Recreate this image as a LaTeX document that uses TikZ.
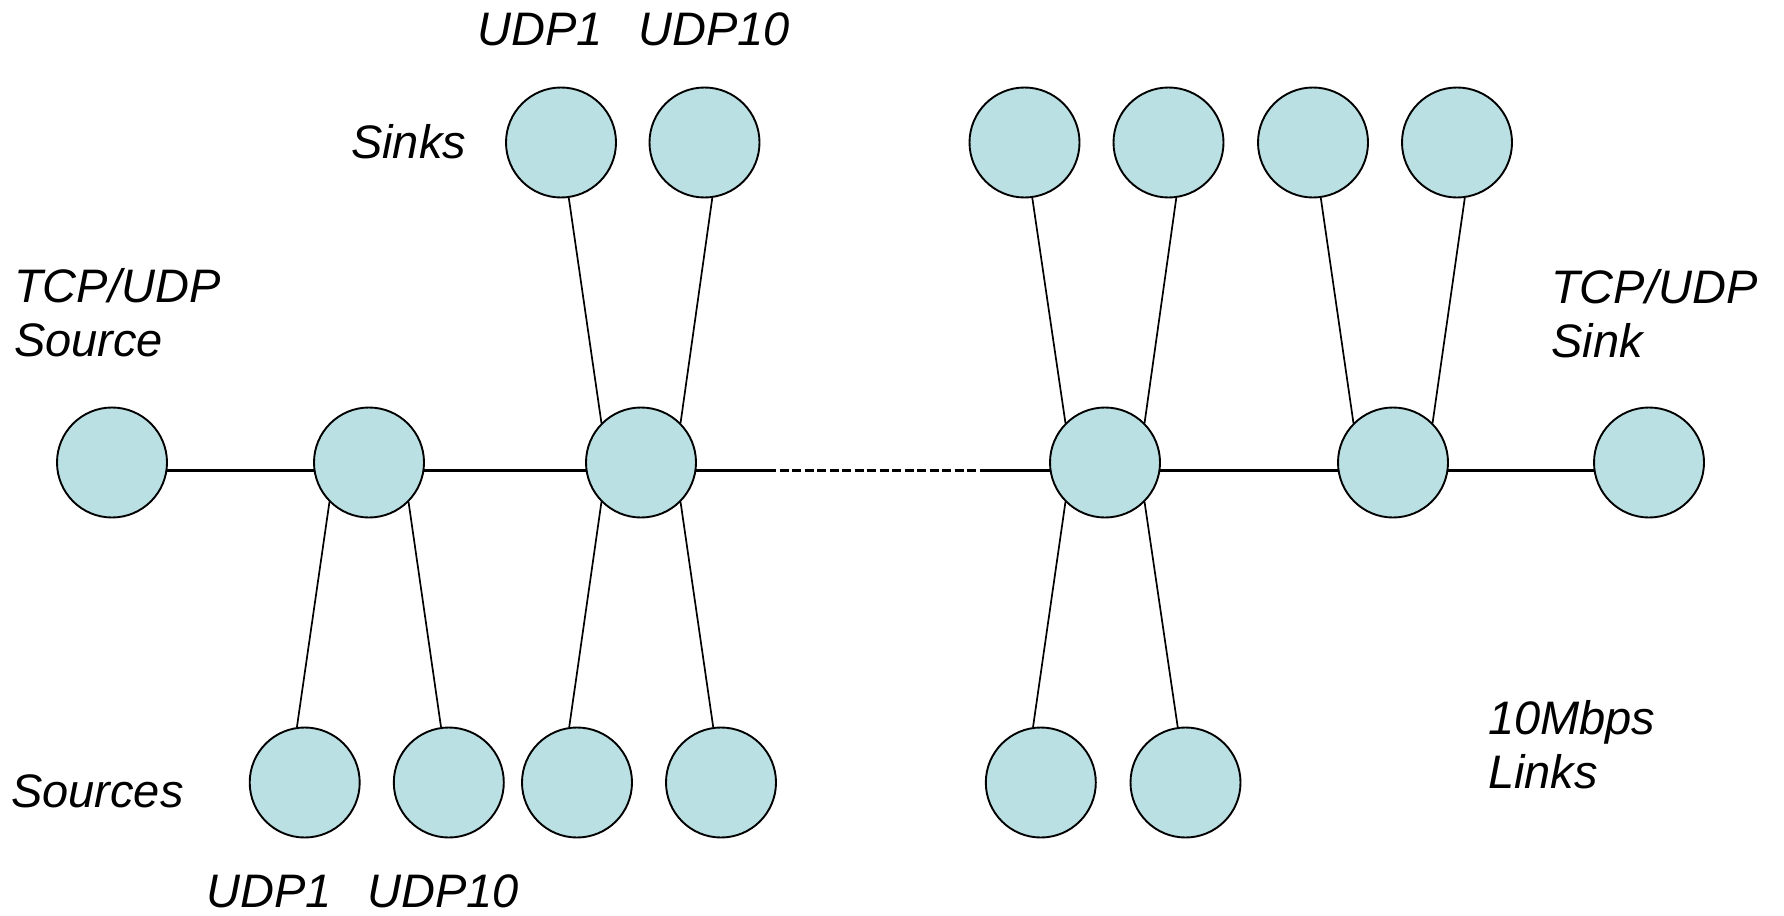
\documentclass[tikz,border=0pt]{standalone}
\usepackage{fontspec}
\setmainfont{Liberation Sans}
\usetikzlibrary{backgrounds}
\definecolor{hostfill}{RGB}{186,224,227}
\begin{document}
\begin{tikzpicture}[x=1pt,y=-1pt,
  host/.style={circle,draw=black,line width=1.9pt,fill=hostfill,minimum size=110pt,inner sep=0pt},
  link/.style={line width=2.1pt},
  spoke/.style={line width=1.7pt},
  lbl/.style={font=\fontsize{47}{54}\selectfont\itshape,inner sep=0pt,anchor=base west,align=left}]
\useasboundingbox (0,0) rectangle (1784,915);

% backbone: source, routers, sink
\node[host] (src) at (112,462.5) {};
\node[host] (r1)  at (369,462.5) {};
\node[host] (r2)  at (641,462.5) {};
\node[host] (r3)  at (1105,462.5) {};
\node[host] (r4)  at (1393,462.5) {};
\node[host] (dst) at (1649,462.5) {};

% upper hosts (UDP sinks)
\node[host] (t1) at (561,142.5) {};
\node[host] (t2) at (704.5,142.5) {};
\node[host] (t3) at (1024.5,142.5) {};
\node[host] (t4) at (1168.5,142.5) {};
\node[host] (t5) at (1313,142.5) {};
\node[host] (t6) at (1457,142.5) {};

% lower hosts (UDP sources)
\node[host] (b1) at (304.7,782.5) {};
\node[host] (b2) at (448.8,782.5) {};
\node[host] (b3) at (577,782.5) {};
\node[host] (b4) at (721,782.5) {};
\node[host] (b5) at (1040.8,782.5) {};
\node[host] (b6) at (1185.5,782.5) {};

% break in the backbone
\coordinate (d1) at (767,470.5);
\coordinate (d2) at (983,470.5);

\begin{scope}[on background layer]
  \draw[link] ([yshift=-8pt]src.center) -- ([yshift=-8pt]r1.center);
  \draw[link] ([yshift=-8pt]r1.center) -- ([yshift=-8pt]r2.center);
  \draw[link] ([yshift=-8pt]r2.center) -- (d1);
  \draw[link,dash pattern=on 9pt off 3.5pt] (d1) -- (d2);
  \draw[link] (d2) -- ([yshift=-8pt]r3.center);
  \draw[link] ([yshift=-8pt]r3.center) -- ([yshift=-8pt]r4.center);
  \draw[link] ([yshift=-8pt]r4.center) -- ([yshift=-8pt]dst.center);
\end{scope}

% access links
\draw[spoke] (t1.-82) -- (r2.135);
\draw[spoke] (t2.-82) -- (r2.45);
\draw[spoke] (t3.-82) -- (r3.135);
\draw[spoke] (t4.-82) -- (r3.45);
\draw[spoke] (t5.-82) -- (r4.135);
\draw[spoke] (t6.-82) -- (r4.45);
\draw[spoke] (b1.98) -- (r1.-135);
\draw[spoke] (b2.98) -- (r1.-45);
\draw[spoke] (b3.98) -- (r2.-135);
\draw[spoke] (b4.98) -- (r2.-45);
\draw[spoke] (b5.98) -- (r3.-135);
\draw[spoke] (b6.98) -- (r3.-45);

% labels (multi-line labels are placed by their last baseline)
\node[lbl] (ltu1) at (477,46) {UDP1};
\node[lbl] (ltu10) at (638,46) {UDP10};
\node[lbl] (lsinks) at (351,158) {Sinks};
\node[lbl] (lsrc) at (14,356) {TCP/UDP\\Source};
\node[lbl] (ldst) at (1551,357) {TCP/UDP\\Sink};
\node[lbl] (lsources) at (11,807) {Sources};
\node[lbl] (lbu1) at (206,907) {UDP1};
\node[lbl] (lbu10) at (367,907) {UDP10};
\node[lbl] (llinks) at (1488,788) {10Mbps\\Links};
\end{tikzpicture}
\end{document}
